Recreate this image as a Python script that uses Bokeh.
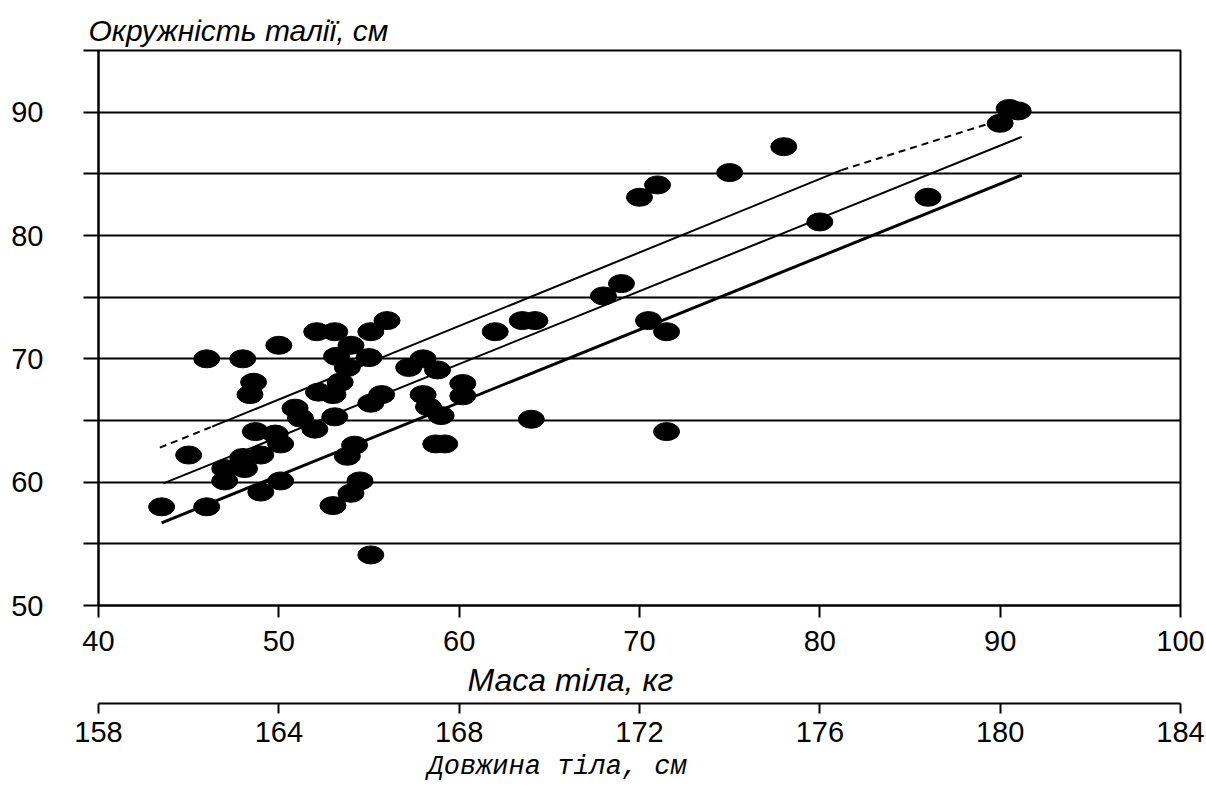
from bokeh.plotting import figure
from bokeh.models import FixedTicker, LinearAxis, Title, Range1d
from bokeh.embed import file_html
from bokeh.resources import INLINE

# ---- data ----
mass = [43.5, 45.0, 46.0, 46.0, 47.0, 47.0, 48.0, 48.0, 48.1, 48.6,
        48.4, 48.7, 49.0, 49.0, 49.8, 50.0, 50.1, 50.1, 50.9, 51.2,
        52.0, 52.1, 52.2, 53.1, 53.0, 53.1, 53.2, 53.4, 53.8, 54.0,
        53.0, 54.0, 54.5, 53.8, 54.2, 55.1, 55.0, 55.7, 55.1, 55.1,
        56.0, 57.2, 58.0, 58.8, 58.0, 58.3, 59.0, 58.7, 59.2, 60.2,
        60.2, 62.0, 63.5, 64.2, 64.0, 68.0, 69.0, 70.0, 71.0, 70.5,
        71.5, 71.5, 75.0, 78.0, 80.0, 86.0, 90.0, 91.0, 90.5]
waist = [58.0, 62.2, 70.0, 58.0, 61.1, 60.1, 70.0, 62.0, 61.1, 68.1,
         67.1, 64.1, 62.2, 59.2, 63.9, 71.1, 63.1, 60.1, 66.0, 65.2,
         64.3, 72.2, 67.3, 72.2, 67.1, 65.3, 70.2, 68.1, 69.3, 71.1,
         58.1, 59.1, 60.1, 62.1, 63.0, 72.2, 70.1, 67.1, 66.4, 54.1,
         73.1, 69.3, 70.0, 69.1, 67.1, 66.1, 65.4, 63.1, 63.1, 68.0,
         67.0, 72.2, 73.1, 73.1, 65.1, 75.1, 76.1, 83.1, 84.1, 73.1,
         72.2, 64.1, 85.1, 87.2, 81.1, 83.1, 89.1, 90.1, 90.3]

upper_x = [43.4, 46.3, 81.2, 91.6]
upper_y = [62.8, 64.5, 85.3, 90.1]
middle_x = [43.6, 91.2]
middle_y = [59.9, 88.0]
lower_x = [43.5, 91.2]
lower_y = [56.7, 84.9]

mass_ticks = [40, 50, 60, 70, 80, 90, 100]
mass_labels = ["40", "50", "60", "70", "80", "90", "100"]
length_labels = ["158", "164", "168", "172", "176", "180", "184"]
waist_ticks = [50, 60, 70, 80, 90]
waist_minor = [55, 65, 75, 85, 95]

y_title = "Окружність талії, см"
x_title = "Маса тіла, кг"
x2_title = "Довжина тіла, см"

SANS = "Liberation Sans"
TICK_SIZE = "29px"

p = figure(width=1206, height=792,
           x_range=Range1d(40, 100), y_range=Range1d(50, 95),
           output_backend="svg", toolbar_location=None,
           min_border_left=98, min_border_right=26,
           min_border_top=50, min_border_bottom=187)
p.background_fill_color = "white"
p.border_fill_color = "white"
p.outline_line_color = "black"
p.outline_line_width = 2
p.outline_line_alpha = 1

# y-axis title above the plot
p.title.text = y_title
p.title.align = "left"
p.title.offset = -10
p.title.standoff = 8
p.title.vertical_align = "bottom"
p.title.text_font = SANS
p.title.text_font_style = "italic"
p.title.text_font_size = "30px"
p.title.text_color = "black"

# grid: horizontal lines every 5
p.xgrid.visible = False
p.ygrid.ticker = FixedTicker(ticks=waist_ticks, minor_ticks=waist_minor)
p.ygrid.grid_line_color = "black"
p.ygrid.grid_line_width = 2
p.ygrid.grid_line_alpha = 1
p.ygrid.minor_grid_line_color = "black"
p.ygrid.minor_grid_line_width = 2

# y axis
ya = p.yaxis[0]
ya.ticker = FixedTicker(ticks=waist_ticks, minor_ticks=waist_minor)
ya.axis_line_width = 2
ya.axis_line_color = "black"
ya.major_tick_out = 15
ya.major_tick_in = 0
ya.minor_tick_out = 15
ya.minor_tick_in = 0
ya.major_tick_line_width = 2
ya.minor_tick_line_width = 2
ya.major_tick_line_color = "black"
ya.minor_tick_line_color = "black"
ya.major_label_standoff = 40
ya.major_label_text_font = SANS
ya.major_label_text_font_size = TICK_SIZE
ya.major_label_text_color = "black"

# x axis 1 (mass)
xa = p.xaxis[0]
xa.ticker = FixedTicker(ticks=mass_ticks)
xa.major_label_overrides = dict(zip(mass_ticks, mass_labels))
xa.axis_line_width = 2
xa.axis_line_color = "black"
xa.major_tick_out = 12
xa.major_tick_in = 0
xa.major_tick_line_width = 2
xa.major_tick_line_color = "black"
xa.major_label_standoff = 13
xa.major_label_text_font = SANS
xa.major_label_text_font_size = TICK_SIZE
xa.major_label_text_color = "black"

t1 = Title(text=x_title, align="left", offset=369, standoff=12,
           text_font=SANS, text_font_style="italic", text_font_size="32px",
           text_color="black")
p.add_layout(t1, "below")

# x axis 2 (body length)
xa2 = LinearAxis(ticker=FixedTicker(ticks=mass_ticks), bounds=(39.17, 100))
xa2.major_label_overrides = dict(zip(mass_ticks, length_labels))
xa2.axis_line_width = 2
xa2.axis_line_color = "black"
xa2.major_tick_out = 10
xa2.major_tick_in = 0
xa2.major_tick_line_width = 2
xa2.major_tick_line_color = "black"
xa2.major_label_standoff = 8
xa2.major_label_text_font = SANS
xa2.major_label_text_font_size = TICK_SIZE
xa2.major_label_text_color = "black"
p.add_layout(xa2, "below")

t2 = Title(text=x2_title, align="left", offset=329, standoff=14,
           vertical_align="top",
           text_font="Liberation Mono", text_font_style="italic", text_font_size="27px",
           text_color="black")
p.add_layout(t2, "below")

# regression lines
p.line(upper_x[0:2], upper_y[0:2], line_color="black", line_width=2, line_dash="7 5")
p.line(upper_x[1:3], upper_y[1:3], line_color="black", line_width=2)
p.line(upper_x[2:4], upper_y[2:4], line_color="black", line_width=2, line_dash="7 5")
p.line(middle_x, middle_y, line_color="black", line_width=2)
p.line(lower_x, lower_y, line_color="black", line_width=3)

# points
p.ellipse(x=mass, y=waist, width=26, height=18, width_units="screen",
          height_units="screen", fill_color="black", line_color="black")

open("out.html", "w").write(file_html(p, INLINE))
